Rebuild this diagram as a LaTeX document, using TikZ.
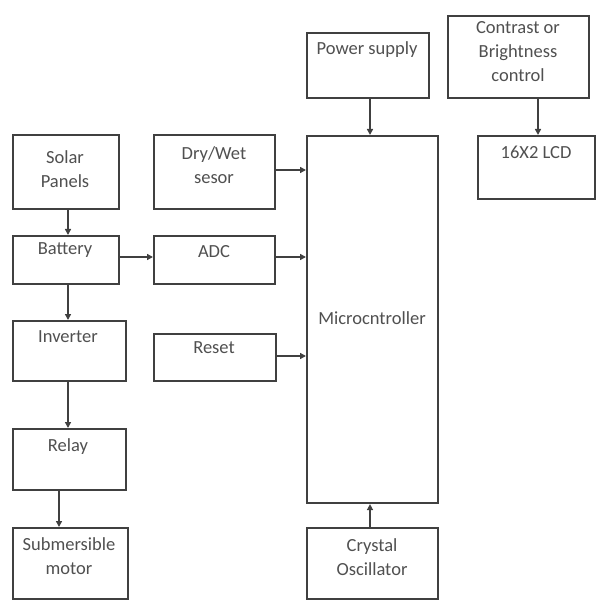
\documentclass[tikz,border=0pt]{standalone}
\usepackage{fontspec}
\setmainfont{Carlito}
\usetikzlibrary{arrows.meta}
\definecolor{edgec}{HTML}{404040}
\definecolor{txtc}{HTML}{505050}
\tikzset{
  box/.style={draw=edgec, line width=2.1pt, fill=white, inner sep=0pt, anchor=north west},
  txt/.style={text=txtc, font=\fontsize{18.5}{24}\selectfont, align=center, inner sep=0pt},
  arr/.style={draw=edgec, line width=1.5pt, -{Triangle[length=6pt,width=6pt]}},
}
\begin{document}
\begin{tikzpicture}[x=1pt,y=-1pt]
\useasboundingbox (0,0) rectangle (595,601);
% left column
\node[box, minimum width=106pt, minimum height=74pt] (sol) at (12,134) {};
\node[box, minimum width=106pt, minimum height=48pt] (bat) at (12,235) {};
\node[box, minimum width=113pt, minimum height=60pt] (inv) at (12,320) {};
\node[box, minimum width=113pt, minimum height=61pt] (rel) at (12,428) {};
\node[box, minimum width=115pt, minimum height=71pt] (sub) at (12,527) {};
% middle column
\node[box, minimum width=121pt, minimum height=74pt] (dry) at (153,134) {};
\node[box, minimum width=121pt, minimum height=48pt] (adc) at (153,235) {};
\node[box, minimum width=122pt, minimum height=47pt] (rst) at (153,333) {};
% micro column
\node[box, minimum width=122pt, minimum height=65pt] (pwr) at (306,32) {};
\node[box, minimum width=131pt, minimum height=367pt] (mcu) at (306,135) {};
\node[box, minimum width=131pt, minimum height=71pt] (xtal) at (306,527) {};
% right column
\node[box, minimum width=141pt, minimum height=82pt] (con) at (447,15) {};
\node[box, minimum width=117pt, minimum height=63pt] (lcd) at (477,135) {};
% texts
\node[txt] (solT) at (65,169) {Solar\\Panels};
\node[txt] (batT) at (65,250) {Battery};
\node[txt] (invT) at (68,337) {Inverter};
\node[txt] (relT) at (68,447) {Relay};
\node[txt] (subT) at (69,556) {Submersible\\motor};
\node[txt] (dryT) at (214,165) {Dry/Wet\\sesor};
\node[txt] (adcT) at (214,252) {ADC};
\node[txt] (rstT) at (214,348) {Reset};
\node[txt] (pwrT) at (367,50) {Power supply};
\node[txt] (mcuT) at (372,318) {Microcntroller};
\node[txt] (xtalT) at (372,557) {Crystal\\Oscillator};
\node[txt] (conT) at (518,52) {Contrast or\\Brightness\\control};
\node[txt] (lcdT) at (536,152) {16X2 LCD};
% connectors
\draw[arr] (sol.south -| 68,0) -- (bat.north -| 68,0);
\draw[arr] (bat.south -| 68,0) -- (inv.north -| 68,0);
\draw[arr] (inv.south -| 68,0) -- (rel.north -| 68,0);
\draw[arr] (rel.south -| 59,0) -- (sub.north -| 59,0);
\draw[arr] (bat.east |- 0,257) -- (adc.west |- 0,257);
\draw[arr] (dry.east |- 0,170) -- (mcu.west |- 0,170);
\draw[arr] (adc.east |- 0,257) -- (mcu.west |- 0,257);
\draw[arr] (rst.east |- 0,356) -- (mcu.west |- 0,356);
\draw[arr] (pwr.south -| 370,0) -- (mcu.north -| 370,0);
\draw[arr] (xtal.north -| 370,0) -- (mcu.south -| 370,0);
\draw[arr] (con.south -| 538,0) -- (lcd.north -| 538,0);
\end{tikzpicture}
\end{document}
